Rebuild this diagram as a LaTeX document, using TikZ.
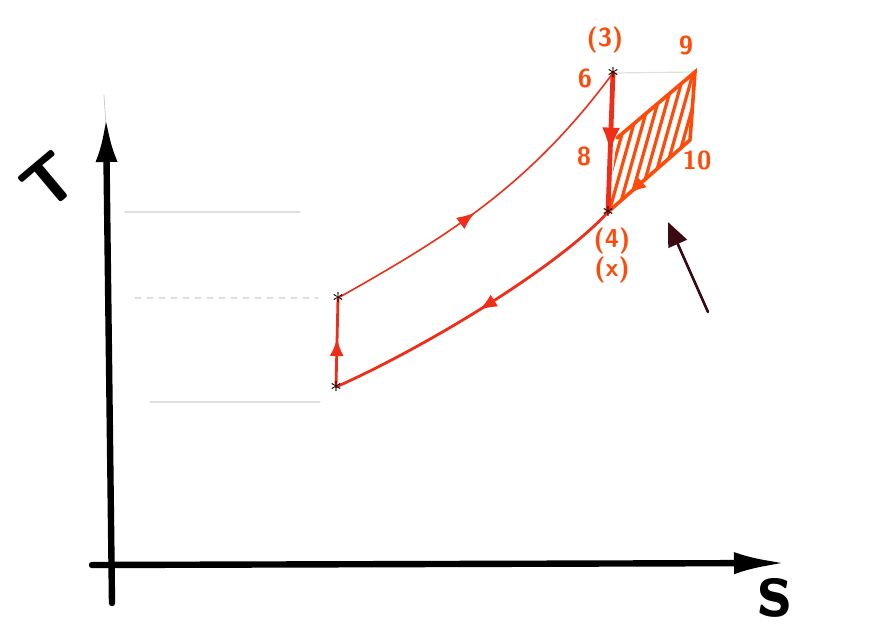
\documentclass[tikz,border=0pt]{standalone}
\usepackage{tikz}
\usetikzlibrary{arrows.meta,decorations.markings}
\definecolor{redline}{RGB}{240,45,25}
\definecolor{hatch}{RGB}{255,75,10}
\definecolor{darkarrow}{RGB}{60,10,20}
\tikzset{
  ast/.style = {inner sep=0pt, font=\large},
  lab/.style = {text=hatch, font=\sffamily\bfseries\fontsize{13}{13}\selectfont},
  midarrow/.style = {postaction={decorate}, decoration={markings,
      mark=at position #1 with {\arrow{Latex[length=9pt,width=7pt]}}}},
  bigarrow/.style = {postaction={decorate}, decoration={markings,
      mark=at position #1 with {\arrow{Latex[length=13pt,width=9pt]}}}},
  guide/.style = {gray!25, line width=0.6pt}
}
\begin{document}
\begin{tikzpicture}[x=0.5pt, y=-0.5pt, line cap=round]
  \useasboundingbox (0,0) rectangle (880,634);
  % axes
  \draw[gray!40, line width=0.4pt] (104,95) -- (106,125);
  \draw[line width=3.2pt, -{Latex[length=22pt,width=11pt]}] (112,603) -- (106,118);
  \draw[line width=3.2pt, -{Latex[length=26pt,width=11pt]}] (92,565) -- (786,563);
  \node[rotate=40, font=\sffamily\bfseries\fontsize{34}{34}\selectfont] (tlab) at (50,182) {T};
  \node[font=\sffamily\bfseries\fontsize{40}{40}\selectfont] (slab) at (774,598) {s};
  % state points
  \coordinate (p6) at (613,73);
  \coordinate (p4) at (608,212);
  \coordinate (pa) at (338,298);
  \coordinate (pb) at (336,387);
  \coordinate (c8) at (617,138);
  \coordinate (c9) at (695,72);
  \coordinate (c10) at (690,140);
  % faint guides
  \draw[guide] (125,212) -- (300,212);
  \draw[guide, dashed] (135,298) -- (318,298);
  \draw[guide] (150,402) -- (320,402);
  \draw[guide] (p6) -- (c9);
  % hatched area
  \begin{scope}
    \clip (c8) -- (c9) -- (c10) -- (p4) -- cycle;
    \foreach \i in {0,...,11}
      \draw[hatch, line width=1.6pt] (595+9*\i,230) -- (640+9*\i,70);
  \end{scope}
  \draw[hatch, line width=1.8pt] (c8) -- (c9) -- (c10);
  \draw[hatch, line width=1.8pt, midarrow=0.75] (c10) -- (p4);
  % cycle
  \draw[redline, line width=2.4pt, bigarrow=0.58] (p6) -- (p4);
  \draw[redline, line width=0.8pt, midarrow=0.45] (pa) .. controls (450,235) and (530,185) .. (p6);
  \draw[redline, line width=1.4pt, midarrow=0.5] (p4) .. controls (560,265) and (430,345) .. (pb);
  \draw[redline, line width=1.4pt, midarrow=0.55] (pb) -- (pa);
  \node[ast] (s6) at (p6) {$\ast$};
  \node[ast] (s4) at (p4) {$\ast$};
  \node[ast] (sa) at (pa) {$\ast$};
  \node[ast] (sb) at (pb) {$\ast$};
  % labels
  \node[lab] (l3) at (605,40) {(3)};
  \node[lab] (l6) at (585,78) {6};
  \node[lab] (l9) at (686,45) {9};
  \node[lab] (l8) at (584,156) {8};
  \node[lab] (l10) at (697,160) {10};
  \node[lab] (l4) at (612,241) {(4)};
  \node[lab] (lx) at (612,270) {(x)};
  % pointer
  \coordinate (tail) at (708,312);
  \draw[darkarrow, line width=1.3pt, -{Triangle[length=12pt,width=10pt]}] (tail) -- (668,222);
\end{tikzpicture}
\end{document}
